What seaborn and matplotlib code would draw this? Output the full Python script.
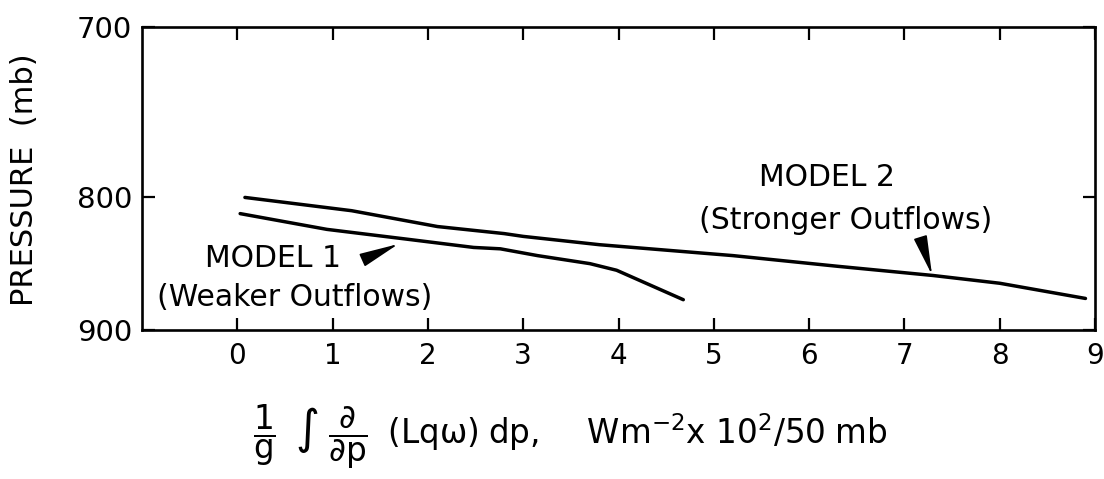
import numpy as np
import pandas as pd
import matplotlib
matplotlib.use("Agg")
import matplotlib.pyplot as plt
import seaborn as sns

# ---- data ----
model1_x = [0.03, 0.94, 1.78, 2.48, 2.76, 3.15, 3.70, 3.98, 4.68]
model1_p = [811, 822, 829, 835, 836, 841, 847, 852, 875]

model2_x = [0.08, 1.20, 2.10, 2.80, 3.00, 3.80, 5.20, 6.30, 7.30, 8.00, 8.90]
model2_p = [800, 809, 820, 825, 827, 833, 841, 849, 856, 862, 874]

x_ticks = [0, 1, 2, 3, 4, 5, 6, 7, 8, 9]
y_ticks = [700, 800, 900]

model1_label = "MODEL 1"
model1_sub = "(Weaker Outflows)"
model2_label = "MODEL 2"
model2_sub = "(Stronger Outflows)"
y_label = "PRESSURE  (mb)"
x_label = (r"$\dfrac{1}{g}\;\;\int{}\;\dfrac{\partial}{\partial p}\;\;(Lq\omega)\;dp,\quad\; "
           r"Wm^{-2}x\ 10^{2}/50\;mb$")

df = pd.concat([
    pd.DataFrame({"x": model1_x, "p": model1_p, "model": model1_label}),
    pd.DataFrame({"x": model2_x, "p": model2_p, "model": model2_label}),
])

sns.set_theme(style="white")
plt.rcParams["font.family"] = ["DejaVu Sans"]
plt.rcParams["mathtext.fontset"] = "dejavusans"
plt.rcParams["mathtext.default"] = "regular"
plt.rcParams["text.color"] = "black"
plt.rcParams["axes.labelcolor"] = "black"
plt.rcParams["xtick.color"] = "black"
plt.rcParams["ytick.color"] = "black"

fig = plt.figure(figsize=(11.04, 4.79), dpi=100)
ax = fig.add_axes([142 / 1104, 1 - 330 / 479, (1095 - 142) / 1104, (330 - 27) / 479])

sns.lineplot(data=df, x="x", y="p", units="model", estimator=None, sort=False,
             color="black", linewidth=2.5, ax=ax, legend=False)


def fwd(p):
    with np.errstate(divide="ignore", invalid="ignore"):
        return -1.0 / np.asarray(p, dtype=float)


def inv(v):
    with np.errstate(divide="ignore", invalid="ignore"):
        return -1.0 / np.asarray(v, dtype=float)


ax.set_yscale("function", functions=(fwd, inv))
ax.set_ylim(900, 700)
ax.set_xlim(-1, 9)
ax.set_xticks(x_ticks)
ax.set_xticklabels([str(t) for t in x_ticks])
ax.set_yticks(y_ticks)
ax.set_yticklabels([str(t) for t in y_ticks])
ax.yaxis.set_minor_locator(matplotlib.ticker.NullLocator())
ax.xaxis.set_minor_locator(matplotlib.ticker.NullLocator())
ax.set_xlabel("")
ax.set_ylabel("")

for s in ax.spines.values():
    s.set_visible(True)
    s.set_color("black")
    s.set_linewidth(1.9)

ax.tick_params(axis="x", which="major", direction="in", length=9, width=1.6,
               top=True, bottom=True, labelsize=20, pad=9, colors="black")
ax.tick_params(axis="y", which="major", direction="in", length=9, width=1.6,
               left=True, right=True, labelsize=21, pad=7, colors="black")
ax.grid(False)

# annotations
ax.text(-0.34, 842.8, model1_label, fontsize=21.5, ha="left", va="center", color="black")
ax.text(-0.84, 873.2, model1_sub, fontsize=21.5, ha="left", va="center", color="black")
ax.text(5.47, 786.9, model2_label, fontsize=21.5, ha="left", va="center", color="black")
ax.text(4.84, 816.1, model2_sub, fontsize=21.5, ha="left", va="center", color="black")

arrow_kw = dict(arrowstyle="-|>,head_length=0.7,head_width=0.12",
                mutation_scale=35, color="black", lw=1.2, shrinkA=0, shrinkB=0)
ax.annotate("", xy=(1.69, 832.5), xytext=(1.36, 842.8), arrowprops=arrow_kw)
ax.annotate("", xy=(7.29, 855.6), xytext=(7.17, 828.2), arrowprops=arrow_kw)

fig.text(25 / 1104, 1 - 180 / 479, y_label, rotation=90, fontsize=22,
         ha="center", va="center", color="black")
fig.text(570 / 1104, 1 - 437 / 479, x_label, fontsize=23.5,
         ha="center", va="center", color="black")

fig.savefig("out.png", dpi=100, facecolor="white")
